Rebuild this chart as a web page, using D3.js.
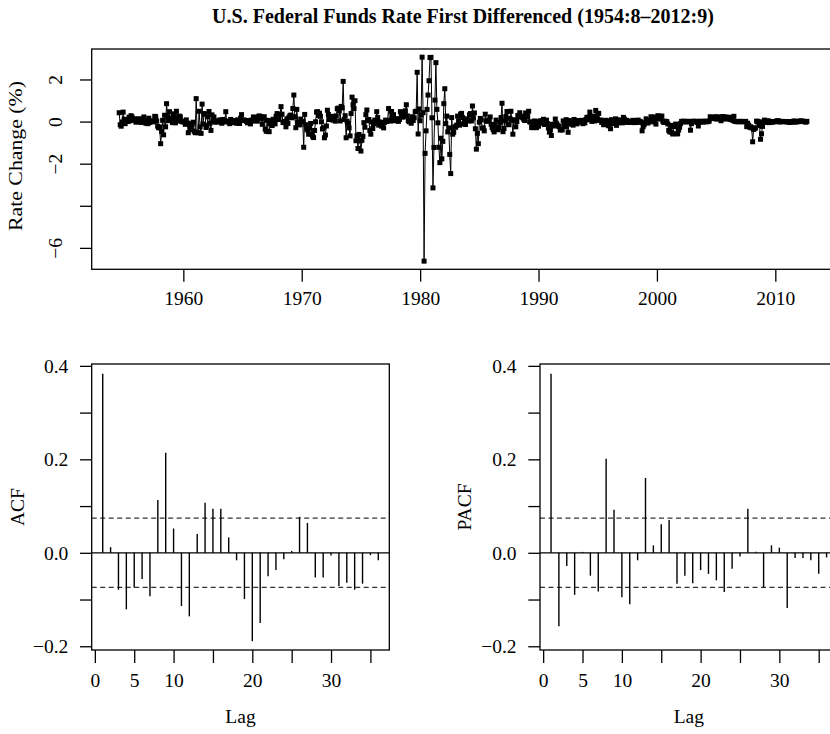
<!DOCTYPE html>
<html><head><meta charset="utf-8">
<script src="https://cdn.jsdelivr.net/npm/d3@7"></script>
<style>
body{margin:0;background:#fff}
svg{display:block}
text{font-family:"Liberation Serif","Times New Roman",serif;fill:#000}
</style>
</head><body>
<svg id="chart" width="830" height="734"></svg>
<script>
// ---------------- DATA ----------------
const chartTitle = "U.S. Federal Funds Rate First Differenced (1954:8–2012:9)";
const startYear = 1954, startMonth = 8;   // first observation 1954:8, monthly

const rateChange1950s = [
  0.42,-0.15,-0.22,-0.02,0.45,
  0.11,-0.10,0.06,0.08,0.00,0.21,0.04,0.28,0.22,0.06,0.11,0.13,
  -0.03,0.05,0.00,0.12,0.13,-0.04,0.04,-0.02,0.22,0.01,-0.08,0.06,
  -0.10,0.16,-0.04,0.04,0.00,0.00,-0.01,0.25,0.23,0.03,-0.22,-0.30,
  -0.26,-1.05,-0.47,0.06,-0.63,0.30,-0.25,0.85,0.23,0.04,0.47,0.15,
  0.06,-0.05,0.37,0.16,-0.06,0.49,0.08,0.03,0.26,0.22,0.02,-0.01
];
const rateChange1960s = [
  0.00,-0.02,-0.13,0.08,-0.07,-0.53,-0.09,-0.25,-0.38,-0.13,-0.03,-0.46,
  -0.53,1.09,-0.52,-0.53,0.49,-0.25,-0.56,0.83,-0.12,0.38,0.35,-0.28,
  -0.18,0.22,0.48,-0.07,-0.42,0.32,0.03,0.22,-0.03,0.00,0.04,-0.01,
  -0.01,0.08,-0.02,-0.08,0.10,-0.01,0.03,0.47,-0.01,0.02,-0.02,-0.10,
  0.10,0.00,-0.05,0.04,0.03,0.00,-0.08,0.08,-0.05,-0.09,0.16,0.33,
  0.05,0.08,0.06,0.05,0.01,-0.06,0.05,0.03,-0.11,0.07,0.02,0.22,
  0.10,0.18,0.05,0.02,0.23,0.27,0.13,0.23,-0.13,0.13,0.23,-0.36,
  -0.46,0.06,-0.47,-0.48,-0.11,0.04,-0.19,0.11,0.09,-0.11,0.25,0.38,
  0.10,0.10,0.34,0.71,0.35,-0.04,-0.05,0.01,-0.25,0.13,-0.09,0.20,
  0.28,0.31,0.18,0.62,1.26,0.23,-0.29,0.58,-0.04,-0.15,-0.15,0.12
];
const rateChange1970s = [
  0.01,0.00,-1.22,0.34,-0.15,-0.34,-0.40,-0.60,-0.32,-0.09,-0.60,-0.70,
  -0.76,-0.42,-0.01,0.45,0.47,0.28,0.40,0.25,-0.01,-0.35,-0.29,-0.77,
  -0.64,-0.21,0.54,0.34,0.10,0.19,0.09,0.25,0.07,0.17,0.02,0.27,
  0.61,0.64,0.51,0.03,0.72,0.65,1.91,0.10,0.28,-0.77,0.02,-0.08,
  -0.30,-0.68,0.38,1.16,0.80,0.62,0.99,-0.91,-0.67,-1.28,-0.61,-0.92,
  -1.40,-0.89,-0.70,-0.05,-0.27,0.33,0.55,0.04,0.10,-0.42,-0.60,-0.02,
  -0.33,-0.10,0.07,-0.02,0.47,0.19,-0.17,-0.02,-0.04,-0.22,-0.08,-0.30,
  -0.04,0.07,0.01,0.04,0.62,0.04,0.03,0.48,0.24,0.33,0.04,0.05,
  0.14,0.08,0.01,0.10,0.47,0.24,0.21,0.23,0.41,0.51,0.80,0.27,
  0.04,-0.01,0.03,-0.08,0.23,0.05,0.18,0.47,0.49,2.34,-0.59,0.60
];
const rateChange1980s = [
  0.04,0.31,3.06,0.42,-6.63,-1.51,-0.44,0.58,1.26,1.94,3.04,3.05,
  0.18,-3.15,-1.23,1.02,2.80,0.58,-0.06,-1.22,-1.95,-0.79,-1.77,-0.94,
  0.85,1.56,-0.10,0.26,-0.49,-0.30,-1.56,-2.47,0.19,-0.60,-0.51,-0.25,
  -0.27,-0.17,0.26,0.03,-0.17,0.35,0.39,0.19,-0.11,0.03,-0.14,0.13,
  0.09,0.03,0.32,0.38,0.03,0.74,0.17,0.41,-0.34,-1.31,-0.56,-1.05,
  -0.03,0.15,0.08,-0.31,-0.30,-0.44,0.35,0.02,0.02,0.07,0.06,0.22,
  -0.13,-0.28,-0.38,-0.49,-0.14,0.07,-0.36,-0.39,-0.28,-0.04,0.19,0.87,
  -0.48,-0.33,0.03,0.24,0.48,-0.12,-0.15,0.15,0.49,0.07,-0.60,0.08,
  0.06,-0.25,0.00,0.29,0.22,0.42,0.24,0.26,0.18,0.11,0.05,0.41,
  0.36,0.24,0.49,-0.01,-0.03,-0.28,-0.29,-0.25,0.03,-0.18,-0.29,-0.10
];
const rateChange1990s = [
  -0.22,0.01,0.04,-0.02,-0.08,0.11,-0.14,-0.02,0.07,-0.09,-0.30,-0.50,
  -0.40,-0.66,-0.13,-0.21,-0.13,0.12,-0.08,-0.16,-0.21,-0.24,-0.40,-0.38,
  -0.40,0.03,-0.08,-0.25,0.09,-0.06,-0.51,0.05,-0.08,-0.12,-0.01,-0.17,
  0.10,0.01,0.04,-0.11,0.04,0.04,0.02,-0.03,0.06,-0.10,0.03,-0.06,
  0.09,0.20,0.09,0.22,0.45,0.24,0.01,0.21,0.26,0.03,0.53,0.16,
  0.08,0.39,0.06,0.07,-0.04,-0.01,-0.15,-0.11,0.06,-0.04,0.04,-0.20,
  -0.04,-0.34,0.09,-0.09,0.02,0.03,0.13,-0.18,0.08,-0.06,0.07,-0.02,
  -0.04,-0.06,0.20,0.12,-0.01,0.06,-0.04,0.02,0.00,-0.04,0.02,-0.02,
  0.06,-0.05,-0.02,-0.04,0.04,0.07,-0.02,0.01,-0.04,-0.44,-0.24,-0.15,
  -0.05,0.13,0.05,-0.07,0.00,0.02,0.23,0.08,0.15,-0.02,0.22,-0.12
];
const rateChange2000s = [
  0.15,0.28,0.12,0.17,0.25,0.26,0.01,-0.04,0.02,-0.01,0.00,-0.11,
  -0.42,-0.49,-0.18,-0.51,-0.59,-0.24,-0.20,-0.12,-0.58,-0.58,-0.40,-0.27,
  -0.09,0.01,-0.01,0.02,0.00,0.00,-0.02,0.01,0.01,0.00,-0.41,-0.10,
  0.00,0.02,-0.01,0.01,0.00,-0.04,-0.21,0.02,-0.02,0.00,-0.01,-0.02,
  0.02,0.01,-0.01,0.00,0.00,0.03,0.23,0.17,0.18,0.15,0.17,0.23,
  0.12,0.22,0.13,0.16,0.21,0.04,0.22,0.24,0.12,0.16,0.22,0.16,
  0.13,0.20,0.10,0.20,0.15,0.05,0.25,0.01,0.00,0.00,0.00,-0.01,
  0.01,0.01,0.00,-0.01,0.00,0.00,0.01,-0.24,-0.08,-0.18,-0.27,-0.25,
  -0.30,-0.96,-0.37,-0.33,-0.30,0.02,0.01,-0.01,-0.19,-0.84,-0.58,-0.23,
  -0.01,0.07,-0.04,-0.03,0.03,0.03,-0.05,0.00,-0.01,-0.03,0.00,0.00
];
const rateChange2010s = [
  -0.01,0.02,0.03,0.04,0.00,-0.02,0.00,0.01,0.00,0.00,0.00,-0.01,
  -0.01,-0.01,-0.02,-0.04,-0.01,0.00,-0.02,0.03,-0.02,-0.01,0.01,-0.01,
  0.01,0.02,0.03,0.01,0.02,0.00,0.00,-0.03,0.01
];

const yearTicks = [1960, 1970, 1980, 1990, 2000, 2010];
const rateTicks = [-6, -4, -2, 0, 2];
const rateTickLabels = ["−6", "", "−2", "0", "2"];

const lags = [1,2,3,4,5,6,7,8,9,10,11,12,13,14,15,16,17,18,19,20,21,22,23,24,25,26,27,28,29,30,31,32,33,34,35,36];
const acfValues = [0.383,0.012,-0.079,-0.121,-0.074,-0.056,-0.093,0.113,0.214,0.052,-0.114,-0.136,
                   0.040,0.107,0.094,0.094,0.033,-0.016,-0.099,-0.189,-0.150,-0.050,-0.037,-0.014,
                   0.004,0.077,0.064,-0.053,-0.053,-0.006,-0.071,-0.064,-0.079,-0.066,-0.005,-0.016];
const pacfValues = [0.383,-0.157,-0.028,-0.090,0.002,-0.049,-0.083,0.201,0.092,-0.095,-0.110,-0.016,
                    0.160,0.016,0.061,0.070,-0.066,-0.049,-0.065,-0.037,-0.045,-0.059,-0.084,-0.034,
                    -0.008,0.094,0.002,-0.075,0.016,0.011,-0.118,-0.011,-0.011,-0.016,-0.045,-0.010];
const ciBound = 0.0742;   // 1.96/sqrt(n)
const lagTicks = [0, 5, 10, 15, 20, 25, 30, 35];
const lagTickLabels = ["0", "5", "10", "", "20", "", "30", ""];
const corrTicks = [-0.2, -0.1, 0.0, 0.1, 0.2, 0.3, 0.4];
const corrTickLabels = ["−0.2", "", "0.0", "", "0.2", "", "0.4"];

// ---------------- DRAWING ----------------
const rateChange = [].concat(rateChange1950s, rateChange1960s, rateChange1970s,
  rateChange1980s, rateChange1990s, rateChange2000s, rateChange2010s);
const series = rateChange.map((v, i) => ({ t: startYear + (startMonth - 1 + i) / 12, v }));

const svg = d3.select("#chart");
const FONT = '"Liberation Serif","Times New Roman",serif';
const FS = 19.5;

function ext(lo, hi) { const r = hi - lo; return [lo - 0.04 * r, hi + 0.04 * r]; }

function box(x0, x1, y0, y1) {
  svg.append("rect").attr("x", x0).attr("y", y0).attr("width", x1 - x0).attr("height", y1 - y0)
    .attr("fill", "none").attr("stroke", "#000").attr("stroke-width", 1.3);
}
function styleAxis(g) {
  g.select(".domain").remove();
  g.attr("font-family", FONT).attr("font-size", FS);
  g.selectAll(".tick line").attr("stroke", "#000").attr("stroke-width", 1.3);
  g.selectAll(".tick text").attr("fill", "#000");
}

// Title
svg.append("text").attr("x", 463).attr("y", 22.5).attr("text-anchor", "middle")
  .attr("font-weight", "bold").attr("font-size", 20).text(chartTitle);

// ---- Top panel: time series ----
const tsP = { l: 91.7, r: 834.4, t: 49, b: 269.3 };
const tExt = d3.extent(series, d => d.t);
const vExt = d3.extent(series, d => d.v);
const xT = d3.scaleLinear().domain(ext(tExt[0], tExt[1])).range([tsP.l, tsP.r]);
const yT = d3.scaleLinear().domain(ext(vExt[0], vExt[1])).range([tsP.b, tsP.t]);

svg.append("path").datum(series)
  .attr("d", d3.line().x(d => xT(d.t)).y(d => yT(d.v)))
  .attr("fill", "none").attr("stroke", "#000").attr("stroke-width", 1);
const sq = 5;
svg.append("g").selectAll("rect").data(series).join("rect")
  .attr("x", d => xT(d.t) - sq / 2).attr("y", d => yT(d.v) - sq / 2)
  .attr("width", sq).attr("height", sq).attr("fill", "#000");
box(tsP.l, tsP.r, tsP.t, tsP.b);

const gxT = svg.append("g").attr("transform", `translate(0,${tsP.b})`)
  .call(d3.axisBottom(xT).tickValues(yearTicks).tickFormat(d3.format("d")).tickSize(12.4).tickPadding(9.5));
styleAxis(gxT);
const gyT = svg.append("g").attr("transform", `translate(${tsP.l},0)`)
  .call(d3.axisLeft(yT).tickValues(rateTicks).tickFormat((d, i) => rateTickLabels[i]).tickSize(11.7));
styleAxis(gyT);
gyT.selectAll(".tick text").attr("x", null).attr("dy", null).attr("text-anchor", "middle")
  .attr("transform", "translate(-30,0) rotate(-90)");

svg.append("text").attr("transform", `translate(22,156) rotate(-90)`)
  .attr("text-anchor", "middle").attr("font-size", FS)
  .attr("textLength", 150).attr("lengthAdjust", "spacingAndGlyphs").text("Rate Change (%)");

// ---- Correlogram panels ----
function correlogram(values, left, right, label, labelX) {
  const p = { l: left, r: right, t: 364, b: 650 };
  const x = d3.scaleLinear().domain(ext(d3.min(lags), d3.max(lags))).range([p.l, p.r]);
  const y = d3.scaleLinear().domain([-0.208, 0.404]).range([p.b, p.t]);
  svg.append("g").selectAll("line").data([ciBound, -ciBound]).join("line")
    .attr("x1", p.l).attr("x2", p.r).attr("y1", d => y(d)).attr("y2", d => y(d))
    .attr("stroke", "#333").attr("stroke-width", 1.25).attr("stroke-dasharray", "5,3.5");
  svg.append("line").attr("x1", p.l).attr("x2", p.r).attr("y1", y(0)).attr("y2", y(0))
    .attr("stroke", "#000").attr("stroke-width", 1.3);
  svg.append("g").selectAll("line").data(values).join("line")
    .attr("x1", (d, i) => x(lags[i])).attr("x2", (d, i) => x(lags[i]))
    .attr("y1", y(0)).attr("y2", d => y(d))
    .attr("stroke", "#000").attr("stroke-width", 1.4);
  box(p.l, p.r, p.t, p.b);
  const gx = svg.append("g").attr("transform", `translate(0,${p.b})`)
    .call(d3.axisBottom(x).tickValues(lagTicks).tickFormat((d, i) => lagTickLabels[i]).tickSize(13).tickPadding(10));
  styleAxis(gx);
  const gy = svg.append("g").attr("transform", `translate(${p.l},0)`)
    .call(d3.axisLeft(y).tickValues(corrTicks).tickFormat((d, i) => corrTickLabels[i]).tickSize(11.7).tickPadding(11.7));
  styleAxis(gy);
  svg.append("text").attr("x", (p.l + p.r) / 2).attr("y", 723).attr("text-anchor", "middle")
    .attr("font-size", FS).text("Lag");
  svg.append("text").attr("transform", `translate(${labelX},${(p.t + p.b) / 2}) rotate(-90)`)
    .attr("text-anchor", "middle").attr("font-size", FS).text(label);
}
correlogram(acfValues, 91.7, 389.3, "ACF", 24);
correlogram(pacfValues, 540, 837.6, "PACF", 471);
</script>
</body></html>
